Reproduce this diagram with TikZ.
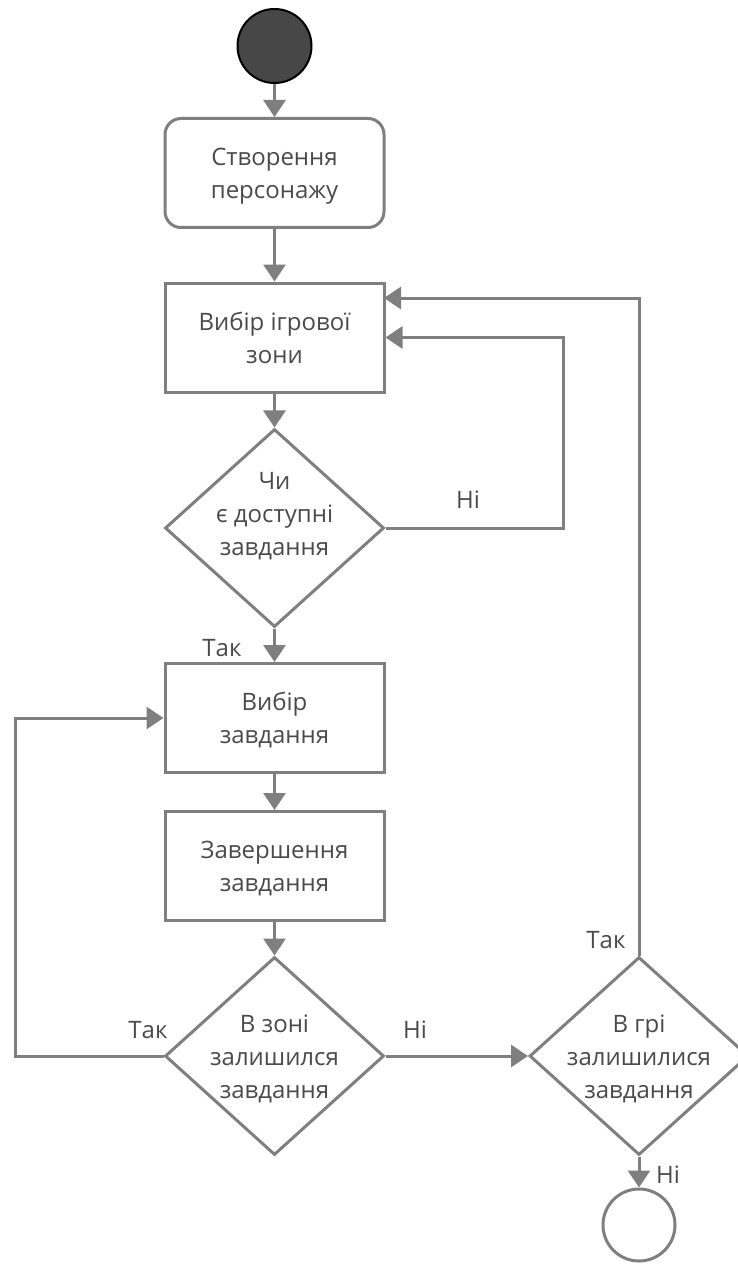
\documentclass[tikz,border=0pt]{standalone}
\usepackage{fontspec}
\setmainfont{Open Sans}
\usetikzlibrary{shapes.geometric,arrows.meta}
\definecolor{linegray}{HTML}{7F7F7F}
\definecolor{textgray}{HTML}{4A4A4A}
\definecolor{startfill}{HTML}{474747}
\begin{document}
\begin{tikzpicture}[x=1pt,y=1pt]
	\tikzstyle{flow} = [draw=linegray, line width=3pt, -{Triangle[width=22pt,length=17pt]}]
	\tikzstyle{txt} = [text=textgray, align=center, font=\fontsize{24}{33}\selectfont]
	\tikzstyle{block} = [txt, rectangle, draw=linegray, line width=3pt, minimum width=219pt, minimum height=109pt, text depth=0pt]
	\tikzstyle{decision} = [diamond, draw=linegray, line width=3pt, minimum width=219pt, minimum height=198pt, inner sep=0pt]
	\tikzstyle{lbl} = [txt, inner sep=0pt]
	\useasboundingbox (0,0) rectangle (738,-1265);
	
	\node [circle, fill=startfill, draw=black, line width=2pt, minimum size=74pt] (start) at (274.5,-46) {};
	\node [block, rounded corners=16pt] (create) at (274.5,-173) {Створення\\персонажу};
	\node [block] (zone) at (274.5,-337.5) {Вибір ігрової\\зони};
	\node [decision, label={[txt,yshift=12pt]center:{Чи\\є доступні\\завдання}}] (check) at (274.5,-528) {};
	\node [block] (task) at (274.5,-718) {Вибір\\завдання};
	\node [block] (finish) at (274.5,-866) {Завершення\\завдання};
	\node [decision, label={[txt,yshift=-3pt]center:{В зоні\\залишился\\завдання}}] (zonecheck) at (274.5,-1056) {};
	\node [decision, label={[txt,yshift=-3pt]center:{В грі\\залишилися\\завдання}}] (game) at (639,-1056) {};
	\node [circle, draw=linegray, line width=3pt, minimum size=72pt] (stop) at (639,-1225) {};
	
	\coordinate (noturn) at (563,-528);
	\coordinate (back) at (15,-1056);
	\coordinate (zonein) at (384,-298);
	
	\draw [flow] (start) -- (create);
	\draw [flow] (create) -- (zone);
	\draw [flow] (zone) -- (check);
	\draw [flow] (check.east) -- (noturn) |- (zone.east);
	\draw [flow] (check) -- (task);
	\draw [flow] (task) -- (finish);
	\draw [flow] (finish) -- (zonecheck);
	\draw [flow] (zonecheck.west) -- (back) |- (task.west);
	\draw [flow] (zonecheck.east) -- (game.west);
	\draw [flow] (game.north) |- (zonein);
	\draw [flow] (game) -- (stop);
	
	\node [lbl] (no1) at (468,-500) {Ні};
	\node [lbl] (yes1) at (222,-648) {Так};
	\node [lbl] (yes2) at (148,-1030) {Так};
	\node [lbl] (no2) at (415,-1030) {Ні};
	\node [lbl] (yes3) at (606,-940) {Так};
	\node [lbl] (no3) at (668,-1175) {Ні};
\end{tikzpicture}
\end{document}
